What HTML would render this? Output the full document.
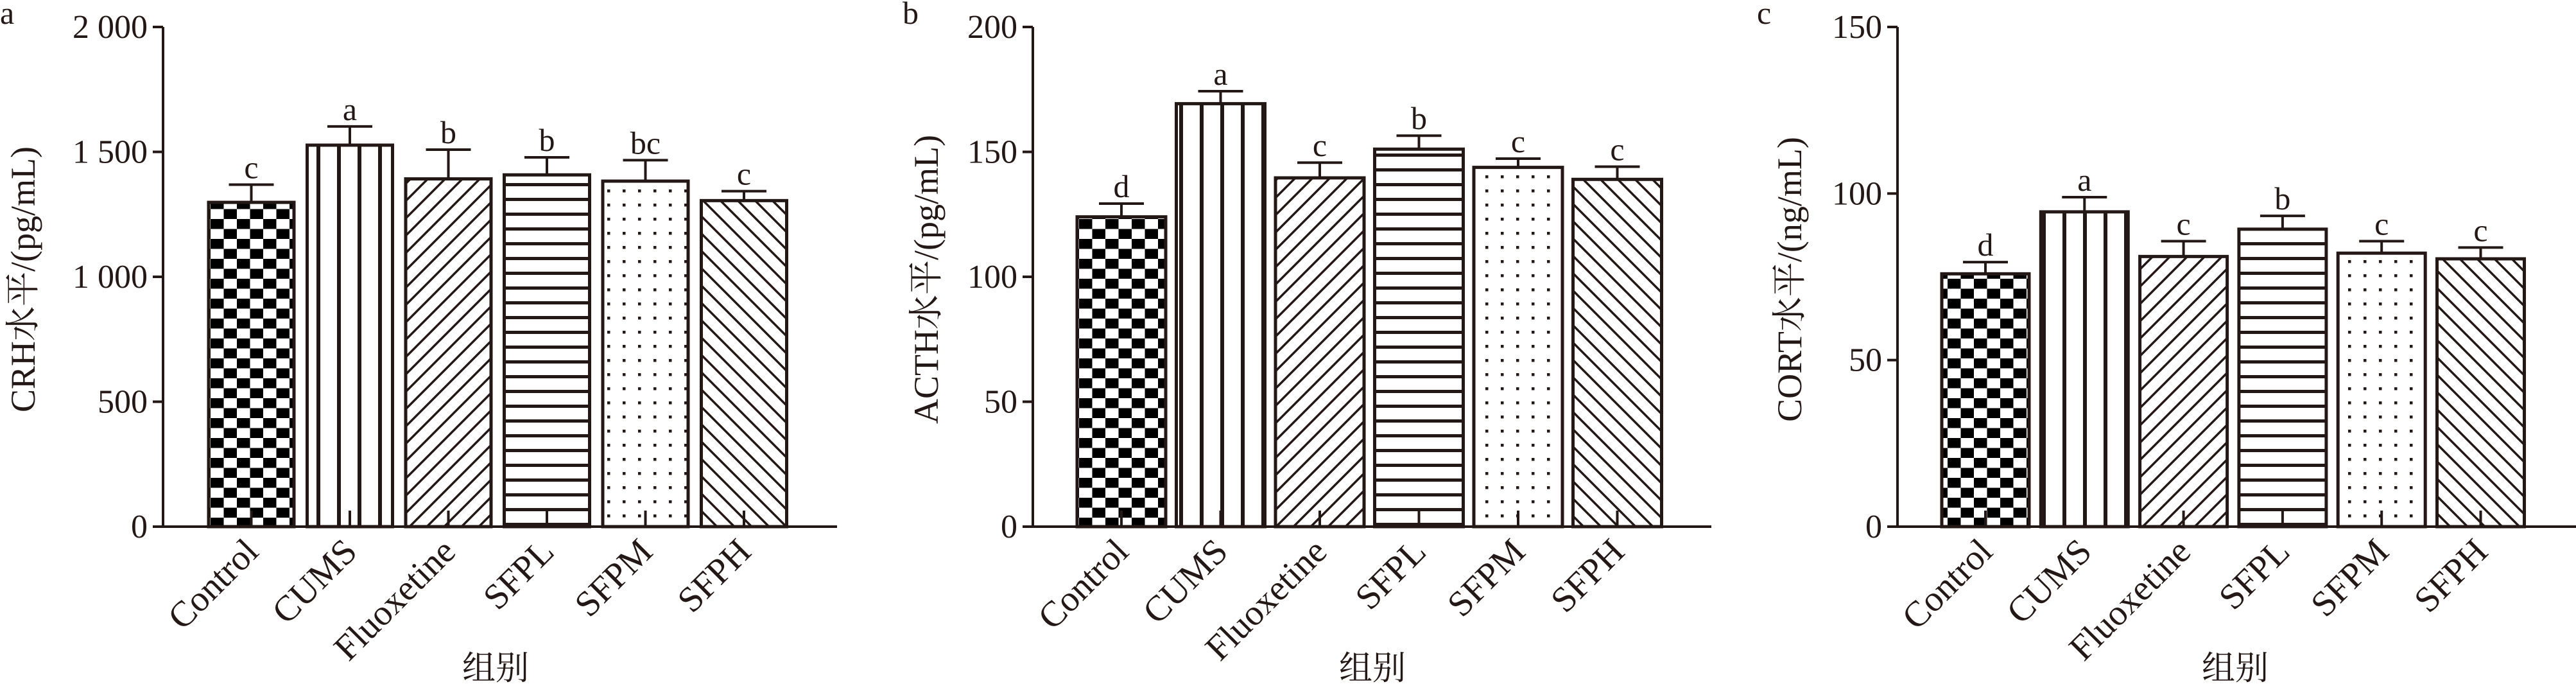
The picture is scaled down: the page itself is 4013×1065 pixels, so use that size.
<!DOCTYPE html>
<html><head><meta charset="utf-8"><style>
html,body{margin:0;padding:0;background:#fff;}
svg{display:block;}
text{font-family:"Liberation Serif","Noto Serif CJK SC",serif;fill:#231815;}
</style></head><body>
<svg id="chart" width="4013" height="1065" viewBox="0 0 4013 1065" xmlns="http://www.w3.org/2000/svg">
<defs>
<pattern id="p0" patternUnits="userSpaceOnUse" width="41" height="31"><rect width="41" height="31" fill="#fff"/><rect x="0" y="0" width="20.5" height="15.5" fill="#000"/><rect x="20.5" y="15.5" width="20.5" height="15.5" fill="#000"/></pattern>
<pattern id="p1" patternUnits="userSpaceOnUse" width="32" height="10"><rect width="32" height="10" fill="#fff"/><rect x="13" y="0" width="6" height="10" fill="#231815"/></pattern>
<pattern id="p2" patternUnits="userSpaceOnUse" width="27" height="27" patternTransform="rotate(0)"><rect width="27" height="27" fill="#fff"/><path d="M-7,7 L7,-7 M0,27 L27,0 M20,34 L34,20" stroke="#231815" stroke-width="3.5"/></pattern>
<pattern id="p3" patternUnits="userSpaceOnUse" width="10" height="23"><rect width="10" height="23" fill="#fff"/><rect x="0" y="9" width="10" height="5" fill="#231815"/></pattern>
<pattern id="p4" patternUnits="userSpaceOnUse" width="24" height="22"><rect width="24" height="22" fill="#fff"/><rect x="10" y="9" width="4.5" height="4.5" fill="#231815"/></pattern>
<pattern id="p5" patternUnits="userSpaceOnUse" width="27" height="27"><rect width="27" height="27" fill="#fff"/><path d="M-7,20 L7,34 M0,0 L27,27 M20,-7 L34,7" stroke="#231815" stroke-width="3.5"/></pattern>
</defs>
</svg>
<script>
const categories = ["Control","CUMS","Fluoxetine","SFPL","SFPM","SFPH"];
const crhValues = [1298,1527,1392,1408,1383,1305];
const crhErrors = [1369,1602,1509,1478,1467,1343];
const crhLetters = ["c","a","b","b","bc","c"];
const crhTicks = [0,500,1000,1500,2000];
const crhTickLabels = ["0","500","1 000","1 500","2 000"];
const acthValues = [124,169.3,139.6,151.1,143.8,139];
const acthErrors = [129.3,174.3,145.7,156.5,147.3,144.1];
const acthLetters = ["d","a","c","b","c","c"];
const acthTicks = [0,50,100,150,200];
const acthTickLabels = ["0","50","100","150","200"];
const cortValues = [75.9,94.5,81.1,89.3,82.1,80.4];
const cortErrors = [79.4,98.9,85.7,93.3,85.7,83.8];
const cortLetters = ["d","a","c","b","c","c"];
const cortTicks = [0,50,100,150];
const cortTickLabels = ["0","50","100","150"];

const svg = document.getElementById('chart');
const NS = 'http://www.w3.org/2000/svg';
function mk(tag, attrs, parent){const e=document.createElementNS(NS,tag);for(const k in attrs)e.setAttribute(k,attrs[k]);(parent||svg).appendChild(e);return e;}
const TOP=42, BOT=820, C='#231815';

function panel(cfg){
  const g = mk('g',{});
  
  
  const y = v => BOT - (v/cfg.max)*(BOT-TOP);
  const xLeft = i => cfg.first + i*cfg.pitch;
  // panel letter
  const pl = mk('text',{x:cfg.letterX,y:37,'font-size':50},g); pl.textContent=cfg.letter;
  
  
  // bars
  cfg.values.forEach((v,i)=>{
    const x = xLeft(i), cx = x+cfg.w/2;
    const r = mk('rect',{x:x,y:y(v),width:cfg.w,height:BOT-y(v),fill:'url(#p'+i+')',stroke:C,'stroke-width':5},g);
    
    
    const e = mk('path',{d:`M${cx},${y(v)} L${cx},${y(cfg.err[i])} M${cx-35},${y(cfg.err[i])} L${cx+35},${y(cfg.err[i])} M${cx},${BOT} L${cx},${BOT-25}`,stroke:C,'stroke-width':4,fill:'none'},g);
    
    
    const t = mk('text',{x:cx,y:y(cfg.err[i])-10,'font-size':50,'text-anchor':'middle'},g); t.textContent=cfg.letters[i];
    
    
    const lx = cx+14, ly = 862;
    const c = mk('text',{x:lx,y:ly,'font-size':56,'text-anchor':'end',transform:`rotate(-45 ${lx} ${ly})`},g); c.textContent=categories[i];
    
    
  });
  // axes
  const ax = mk('path',{d:`M${cfg.axisX},${TOP} L${cfg.axisX},${BOT} L${cfg.end},${BOT}`,stroke:C,'stroke-width':4,fill:'none'},g);
  
  
  cfg.ticks.forEach((tv,i)=>{
    const ty=y(tv);
    const tk = mk('line',{x1:cfg.axisX-16,y1:ty,x2:cfg.axisX,y2:ty,stroke:C,'stroke-width':4},g);
    
    
    const tl = mk('text',{x:cfg.axisX-24,y:ty+17,'font-size':52,'text-anchor':'end'},g); tl.textContent=cfg.tickLabels[i];
    
    
  });
  const yt = mk('text',{x:cfg.titleX,y:435,'font-size':54,'text-anchor':'middle',transform:`rotate(-90 ${cfg.titleX} 435)`,'dominant-baseline':'central'},g); yt.textContent=cfg.title;
  
  
  const xt = mk('text',{x:cfg.xTitleX,y:1058,'font-size':52,'text-anchor':'middle'},g); xt.textContent='组别';
  
  
}
panel({id:'crh',letter:'a',letterX:0,axisX:254,first:325,pitch:153.5,w:133,end:1304,max:2000,values:crhValues,err:crhErrors,letters:crhLetters,ticks:crhTicks,tickLabels:crhTickLabels,title:'CRH水平/(pg/mL)',titleX:36,xTitleX:772});
panel({id:'acth',letter:'b',letterX:1406,axisX:1609,first:1678,pitch:154.5,w:138,end:2666,max:200,values:acthValues,err:acthErrors,letters:acthLetters,ticks:acthTicks,tickLabels:acthTickLabels,title:'ACTH水平/(pg/mL)',titleX:1443,xTitleX:2138});
panel({id:'cort',letter:'c',letterX:2737,axisX:2956,first:3025,pitch:154.3,w:136,end:4013,max:150,values:cortValues,err:cortErrors,letters:cortLetters,ticks:cortTicks,tickLabels:cortTickLabels,title:'CORT水平/(ng/mL)',titleX:2788,xTitleX:3482});
</script>
</body></html>
